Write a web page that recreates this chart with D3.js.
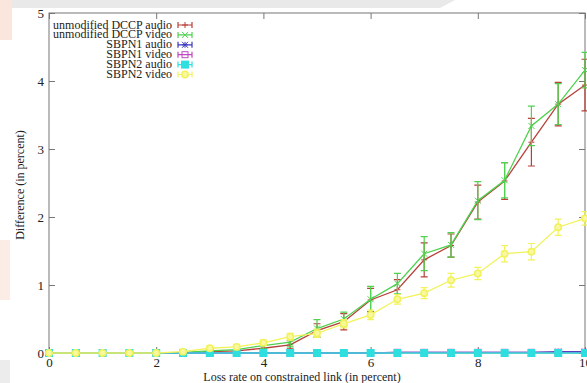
<!DOCTYPE html>
<html>
<head>
<meta charset="utf-8">
<script src="https://cdn.jsdelivr.net/npm/d3@7"></script>
<style>
  body { margin: 0; background: #fff; }
  svg { display: block; }
  text { font-family: "Liberation Serif", "DejaVu Serif", serif; }
</style>
</head>
<body>
<script>
var W = 587, H = 383;
var margin = {top: 13, right: 2, bottom: 30, left: 49},
	width = W - margin.left - margin.right,
	height = H - margin.top - margin.bottom;
var serif = "'Liberation Serif', 'DejaVu Serif', serif";

// loss rate (x), 0 .. 10 step 0.5
var lossRate = [0, 0.5, 1, 1.5, 2, 2.5, 3, 3.5, 4, 4.5, 5, 5.5, 6, 6.5, 7, 7.5, 8, 8.5, 9, 9.5, 10];

var dccpAudio    = [0, 0, 0, 0, 0, 0.00, 0.02, 0.03, 0.07, 0.12, 0.33, 0.46, 0.78, 0.93, 1.37, 1.58, 2.22, 2.53, 3.10, 3.66, 3.94];
var dccpAudioErr = [0, 0, 0, 0, 0, 0.01, 0.02, 0.02, 0.04, 0.06, 0.10, 0.12, 0.17, 0.15, 0.25, 0.17, 0.25, 0.27, 0.35, 0.32, 0.38];
var dccpVideo    = [0, 0, 0, 0, 0, 0.01, 0.03, 0.05, 0.11, 0.16, 0.36, 0.50, 0.79, 1.02, 1.46, 1.59, 2.24, 2.54, 3.34, 3.66, 4.16];
var dccpVideoErr = [0, 0, 0, 0, 0, 0.01, 0.02, 0.03, 0.05, 0.07, 0.13, 0.10, 0.19, 0.15, 0.25, 0.18, 0.28, 0.26, 0.29, 0.30, 0.26];
var sbpn1Audio   = [0, 0, 0, 0, 0, 0, 0, 0, 0, 0, 0, 0, 0, 0.01, 0.01, 0.01, 0.01, 0.01, 0.01, 0.02, 0.02];
var sbpn1Video   = [0, 0, 0, 0, 0, 0, 0, 0, 0, 0, 0, 0, 0, 0.01, 0.01, 0.01, 0.01, 0.01, 0.01, 0.01, 0.01];
var sbpn2Audio   = [0, 0, 0, 0, 0, 0, 0, 0, 0, 0, 0, 0, 0, 0, 0, 0, 0, 0, 0, 0, 0];
var sbpn2Video    = [0, 0, 0, 0, 0, 0.02, 0.07, 0.09, 0.15, 0.24, 0.29, 0.43, 0.56, 0.79, 0.88, 1.07, 1.17, 1.46, 1.49, 1.85, 1.98];
var sbpn2VideoErr = [0, 0, 0, 0, 0, 0.02, 0.03, 0.03, 0.04, 0.05, 0.06, 0.06, 0.07, 0.07, 0.08, 0.10, 0.09, 0.12, 0.12, 0.12, 0.10];

var xTicks = [0, 2, 4, 6, 8, 10];
var yTicks = [0, 1, 2, 3, 4, 5];

var series = [
	{name: "unmodified DCCP audio", values: dccpAudio, err: dccpAudioErr, color: "#b8403a", marker: "plus"},
	{name: "unmodified DCCP video", values: dccpVideo, err: dccpVideoErr, color: "#4fd24f", marker: "cross"},
	{name: "SBPN1 audio", values: sbpn1Audio, err: null, color: "#3a3ac0", marker: "star"},
	{name: "SBPN1 video", values: sbpn1Video, err: null, color: "#c048c0", marker: "square"},
	{name: "SBPN2 audio", values: sbpn2Audio, err: null, color: "#2fdede", marker: "fsquare"},
	{name: "SBPN2 video", values: sbpn2Video, err: sbpn2VideoErr, color: "#f2f25a", marker: "circle"}
];

var svg = d3.select("body").append("svg")
	.attr("width", W)
	.attr("height", H);

// faint watermark background
svg.append("path")
	.attr("d", "M0,0 L455,0 L440,8 L0,8 Z")
	.attr("fill", "#e9e9e9");
svg.append("rect").attr("x", 0).attr("y", 0).attr("width", 12).attr("height", 40).attr("fill", "#fbe6de");
svg.append("rect").attr("x", 0).attr("y", 240).attr("width", 10).attr("height", 60).attr("fill", "#fbece6");
svg.append("rect").attr("x", 0).attr("y", 360).attr("width", 10).attr("height", 23).attr("fill", "#ececec");

var x = d3.scaleLinear().domain([0, 10]).range([0, width]);
var y = d3.scaleLinear().domain([0, 5]).range([height, 0]);

var main = svg.append("g")
	.attr("transform", "translate(" + margin.left + "," + margin.top + ")");

// axes with inward ticks
var axisColor = "#777";
function styleAxis(g) {
	g.select(".domain").remove();
	g.selectAll("line").attr("stroke", axisColor);
	g.selectAll("text").attr("fill", "#222").attr("font-size", 13).attr("font-family", serif);
}

main.append("g")
	.attr("transform", "translate(0," + height + ")")
	.call(d3.axisBottom(x).tickValues(xTicks).tickSize(-6).tickPadding(5).tickFormat(d3.format("d")))
	.call(styleAxis);
main.append("g")
	.call(d3.axisTop(x).tickValues(xTicks).tickSize(-6).tickFormat(""))
	.call(styleAxis);
main.append("g")
	.call(d3.axisLeft(y).tickValues(yTicks).tickSize(-6).tickPadding(5).tickFormat(d3.format("d")))
	.call(styleAxis);
main.append("g")
	.attr("transform", "translate(" + width + ",0)")
	.call(d3.axisRight(y).tickValues(yTicks).tickSize(-6).tickFormat(""))
	.call(styleAxis);

// frame
main.append("rect")
	.attr("width", width).attr("height", height)
	.attr("fill", "none").attr("stroke", axisColor).attr("stroke-width", 1);

function drawMarker(g, type, cx, cy, color) {
	var s = 3;
	if (type == "plus") {
		g.append("path").attr("d", "M" + (cx - s) + "," + cy + "h" + 2 * s + "M" + cx + "," + (cy - s) + "v" + 2 * s)
			.attr("stroke", color).attr("fill", "none");
	} else if (type == "cross") {
		g.append("path").attr("d", "M" + (cx - s) + "," + (cy - s) + "l" + 2 * s + "," + 2 * s + "M" + (cx - s) + "," + (cy + s) + "l" + 2 * s + "," + (-2 * s))
			.attr("stroke", color).attr("fill", "none");
	} else if (type == "star") {
		g.append("path").attr("d", "M" + (cx - s) + "," + cy + "h" + 2 * s + "M" + cx + "," + (cy - s) + "v" + 2 * s +
			"M" + (cx - s) + "," + (cy - s) + "l" + 2 * s + "," + 2 * s + "M" + (cx - s) + "," + (cy + s) + "l" + 2 * s + "," + (-2 * s))
			.attr("stroke", color).attr("fill", "none");
	} else if (type == "square") {
		g.append("rect").attr("x", cx - 3).attr("y", cy - 3).attr("width", 6).attr("height", 6)
			.attr("stroke", color).attr("fill", "none");
	} else if (type == "fsquare") {
		g.append("rect").attr("x", cx - 4).attr("y", cy - 4).attr("width", 8).attr("height", 8)
			.attr("fill", color);
	} else if (type == "circle") {
		g.append("circle").attr("cx", cx).attr("cy", cy).attr("r", 3.2)
			.attr("stroke", color).attr("stroke-width", 1.5).attr("fill", "#f8f8a0");
	}
}

var line = d3.line()
	.x(function(d) { return x(d[0]); })
	.y(function(d) { return y(d[1]); });

series.forEach(function(s) {
	var g = main.append("g").attr("class", "series");
	var pts = lossRate.map(function(lr, i) { return [lr, s.values[i]]; });

	// error bars
	if (s.err) {
		lossRate.forEach(function(lr, i) {
			var e = s.err[i];
			if (!e) return;
			var cx = x(lr), y0 = y(s.values[i] - e), y1 = y(s.values[i] + e);
			g.append("path")
				.attr("d", "M" + cx + "," + y0 + "V" + y1 +
					"M" + (cx - 3.5) + "," + y0 + "h7" +
					"M" + (cx - 3.5) + "," + y1 + "h7")
				.attr("stroke", s.color).attr("fill", "none").attr("stroke-width", 1.2);
		});
	}

	g.append("path")
		.datum(pts)
		.attr("d", line)
		.attr("fill", "none")
		.attr("stroke", s.color)
		.attr("stroke-width", 1.3);

	pts.forEach(function(p) { drawMarker(g, s.marker, x(p[0]), y(p[1]), s.color); });
});

// legend
var legend = svg.append("g").attr("class", "legend");
series.forEach(function(s, i) {
	var ly = 25 + i * 9.9;
	legend.append("text")
		.attr("x", 172).attr("y", ly + 3.5)
		.attr("text-anchor", "end")
		.attr("font-family", serif)
		.attr("font-size", 12)
		.attr("fill", "#222")
		.text(s.name);
	legend.append("path")
		.attr("d", "M178," + ly + "H192M178," + (ly - 3) + "v6M192," + (ly - 3) + "v6")
		.attr("stroke", s.color).attr("fill", "none").attr("stroke-width", 1.2);
	drawMarker(legend, s.marker, 185, ly, s.color);
});

// axis titles
svg.append("text")
	.attr("x", margin.left + width / 2 - 15).attr("y", 381)
	.attr("text-anchor", "middle")
	.attr("font-family", serif)
	.attr("font-size", 12)
	.attr("fill", "#222")
	.text("Loss rate on constrained link (in percent)");

svg.append("text")
	.attr("transform", "translate(24," + 185 + ") rotate(-90)")
	.attr("text-anchor", "middle")
	.attr("font-family", serif)
	.attr("font-size", 12)
	.attr("fill", "#222")
	.text("Difference (in percent)");
</script>
</body>
</html>
